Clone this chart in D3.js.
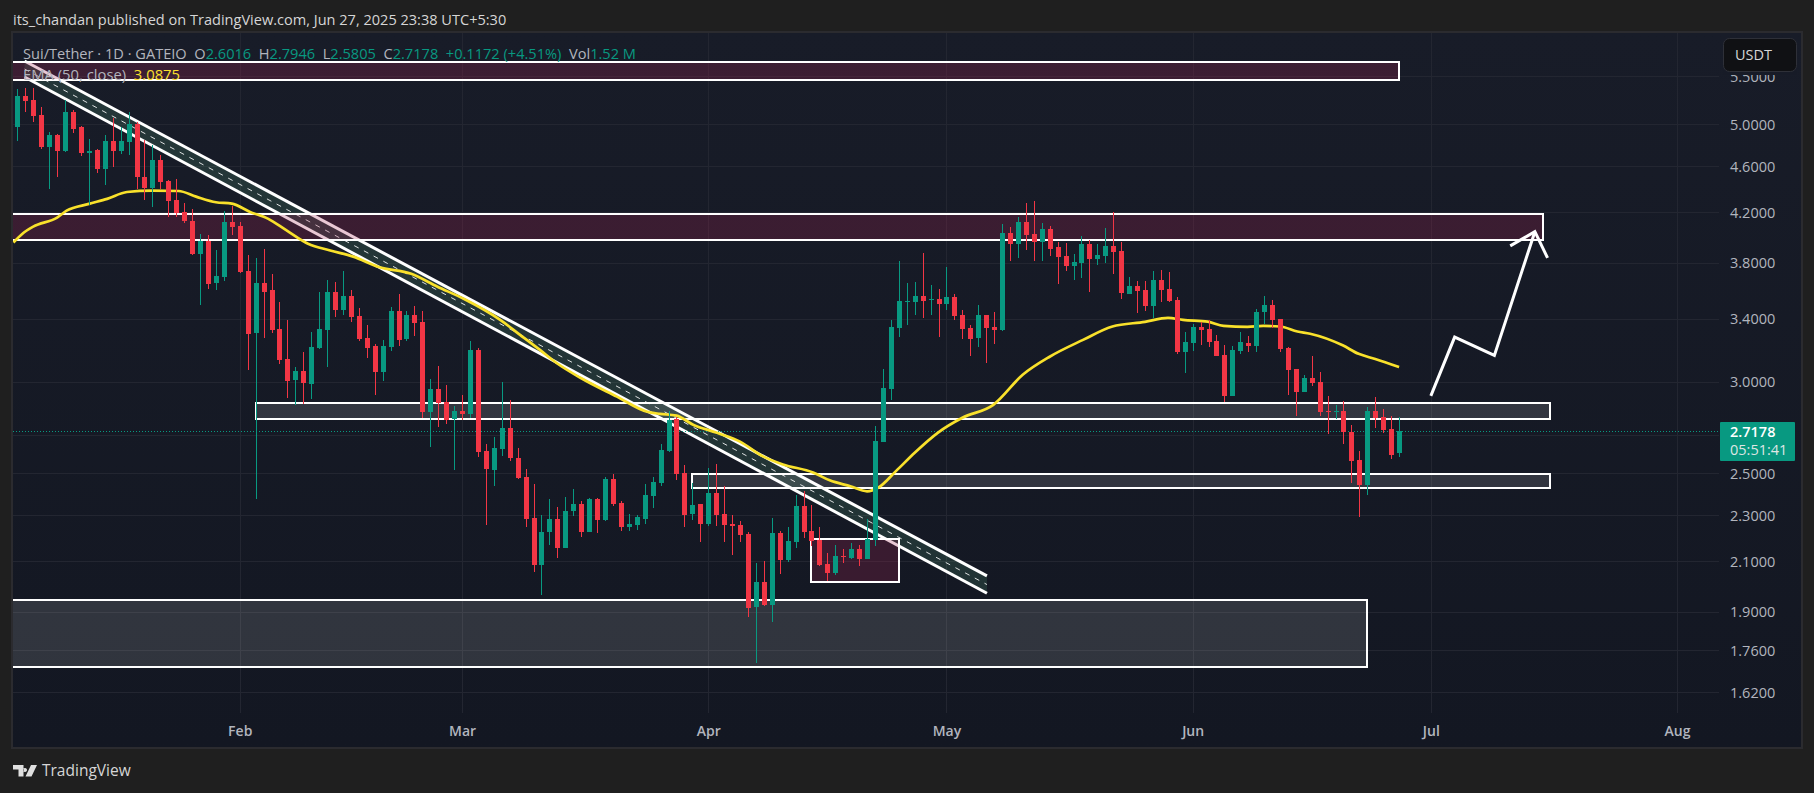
<!DOCTYPE html>
<html><head><meta charset="utf-8">
<script src="https://d3js.org/d3.v7.min.js"></script>
<style>
html,body{margin:0;padding:0;background:#1f1f1f;overflow:hidden}
svg{display:block}
text{font-family:"Open Sans","Noto Sans",sans-serif}
</style></head><body>
<script>
// ---------- data ----------
const firstDay = "2025-01-04";
const opens = [4.974,5.289,5.247,5.094,4.780,4.896,4.742,5.124,4.974,4.723,
4.751,4.576,4.837,4.742,4.828,5.003,4.504,4.407,4.658,4.468,
4.303,4.201,4.128,3.866,3.967,3.649,3.693,4.120,4.087,3.738,
3.305,3.649,3.599,3.332,3.138,3.011,3.065,2.987,3.208,3.325,
3.585,3.459,3.557,3.418,3.272,3.221,3.059,3.215,3.452,3.266,
3.425,3.378,2.825,2.957,2.882,2.787,2.830,2.814,3.195,2.615,
2.518,2.625,2.737,2.578,2.483,2.289,2.085,2.226,2.285,2.157,
2.321,2.354,2.226,2.377,2.280,2.473,2.358,2.248,2.258,2.285,
2.391,2.454,2.615,2.787,2.503,2.307,2.354,2.262,2.406,2.307,
2.262,2.258,2.217,1.918,2.016,1.926,2.222,2.106,2.182,2.344,
2.231,2.191,2.089,2.053,2.123,2.114,2.152,2.110,2.191,2.662,
2.957,3.338,3.515,3.515,3.557,3.529,3.536,3.501,3.550,3.425,
3.338,3.272,3.425,3.345,3.325,4.030,3.944,4.120,4.022,3.959,
4.062,3.920,3.851,3.775,3.797,3.944,3.828,3.851,3.928,3.889,
3.571,3.628,3.599,3.487,3.671,3.606,3.529,3.182,3.240,3.345,
3.332,3.253,3.163,2.916,3.189,3.240,3.221,3.445,3.494,3.398,
3.208,3.077,2.940,3.023,2.999,2.830,2.825,2.830,2.715,2.568,
2.444,2.830,2.798,2.732,2.6016];
const highs = [5.363,5.374,5.374,5.175,4.925,4.905,5.247,5.144,4.984,4.857,
4.761,4.896,5.063,4.974,5.124,5.023,4.847,4.799,4.704,4.477,
4.486,4.278,4.226,4.022,4.014,3.897,4.210,4.252,4.120,3.858,
3.835,3.905,3.716,3.515,3.391,3.089,3.182,3.312,3.585,3.671,
3.657,3.738,3.599,3.473,3.358,3.234,3.259,3.480,3.571,3.452,
3.487,3.452,3.017,3.095,2.981,2.859,2.922,3.253,3.208,2.651,
2.688,2.999,2.893,2.630,2.523,2.449,2.303,2.377,2.340,2.386,
2.425,2.367,2.382,2.382,2.483,2.498,2.367,2.307,2.303,2.449,
2.483,2.651,2.830,2.798,2.543,2.454,2.354,2.528,2.548,2.439,
2.303,2.276,2.226,2.094,2.102,2.289,2.231,2.248,2.396,2.415,
2.349,2.248,2.135,2.170,2.152,2.178,2.170,2.285,2.748,3.077,
3.391,3.812,3.649,3.657,3.874,3.635,3.606,3.767,3.571,3.459,
3.358,3.494,3.425,3.445,4.103,4.079,4.161,4.278,4.295,4.111,
4.087,3.959,3.951,3.866,4.006,3.975,3.944,4.070,4.201,3.959,
3.693,3.664,3.664,3.738,3.745,3.730,3.550,3.312,3.365,3.378,
3.391,3.292,3.227,3.221,3.312,3.285,3.466,3.557,3.529,3.398,
3.215,3.077,3.041,3.157,3.059,2.916,2.865,2.887,2.754,2.615,
2.853,2.910,2.842,2.803,2.7946];
const lows = [4.837,5.123,5.023,4.761,4.398,4.504,4.732,4.915,4.695,4.260,
4.540,4.433,4.594,4.714,4.704,4.398,4.303,4.243,4.398,4.161,
4.161,4.111,3.858,3.494,3.606,3.599,3.664,4.014,3.723,3.071,
2.377,3.272,3.305,3.108,2.905,2.865,2.870,2.899,3.201,3.089,
3.411,3.425,3.378,3.253,3.145,2.922,3.005,3.189,3.221,3.253,
3.285,2.792,2.636,2.743,2.759,2.518,2.781,2.792,2.584,2.258,
2.439,2.589,2.563,2.473,2.248,2.057,1.964,2.170,2.114,2.157,
2.298,2.204,2.226,2.222,2.276,2.344,2.231,2.231,2.235,2.262,
2.335,2.439,2.610,2.468,2.248,2.280,2.182,2.253,2.253,2.182,
2.127,2.182,1.881,1.717,1.922,1.863,2.049,2.098,2.157,2.200,
2.165,2.081,2.020,2.045,2.093,2.110,2.081,2.110,2.165,2.662,
2.893,3.279,3.358,3.425,3.405,3.425,3.279,3.459,3.391,3.266,
3.157,3.215,3.114,3.234,3.318,3.812,3.835,3.897,3.812,3.812,
3.851,3.642,3.738,3.671,3.686,3.585,3.783,3.797,3.716,3.536,
3.571,3.438,3.452,3.405,3.515,3.515,3.170,3.053,3.189,3.227,
3.215,3.157,2.882,2.916,3.170,3.182,3.182,3.365,3.338,3.182,
2.922,2.803,2.940,2.975,2.803,2.704,2.787,2.651,2.453,2.294,
2.396,2.737,2.710,2.573,2.5805];
const closes = [5.289,5.237,5.083,4.780,4.896,4.742,5.124,4.954,4.723,4.742,
4.576,4.837,4.742,4.837,5.003,4.504,4.407,4.658,4.459,4.295,
4.193,4.128,3.866,3.967,3.642,3.700,4.120,4.079,3.730,3.299,
3.649,3.585,3.325,3.132,3.005,3.065,2.993,3.215,3.332,3.585,
3.459,3.557,3.411,3.266,3.208,3.059,3.221,3.452,3.259,3.425,
3.371,2.825,2.957,2.876,2.781,2.830,2.814,3.195,2.610,2.523,
2.630,2.737,2.578,2.478,2.285,2.085,2.226,2.285,2.157,2.321,
2.354,2.226,2.377,2.280,2.473,2.354,2.248,2.262,2.294,2.396,
2.458,2.620,2.781,2.498,2.303,2.349,2.262,2.406,2.303,2.258,
2.253,2.213,1.915,2.016,1.926,2.222,2.106,2.187,2.344,2.226,
2.187,2.085,2.053,2.123,2.119,2.152,2.110,2.195,2.667,2.963,
3.345,3.522,3.522,3.557,3.522,3.536,3.501,3.550,3.418,3.332,
3.266,3.425,3.338,3.325,4.030,3.944,4.120,4.014,3.959,4.062,
3.905,3.843,3.775,3.805,3.944,3.828,3.858,3.928,3.882,3.578,
3.628,3.592,3.487,3.671,3.599,3.522,3.182,3.246,3.345,3.325,
3.246,3.157,2.916,3.195,3.246,3.221,3.445,3.494,3.391,3.201,
3.071,2.940,3.023,2.993,2.825,2.825,2.830,2.715,2.563,2.444,
2.830,2.792,2.726,2.594,2.7178];

// EMA(50, close): day offset from firstDay and value, read at the bends of the yellow line
const emaDays = [-0.5,0.6,2,5,6.2,9,11.3,13.8,17,20.3,22.5,25,27,29.3,31.6,33.8,36.6,39.4,42.3,45.5,49.6,52.9,56.2,60.8,63.3,65.8,67.9,70.9,75.5,79.3,80.9,83,85.1,88.1,91,93.9,96.4,100.2,102.3,104.9,107,108.4,110.7,113,115.9,119,122.9,126.6,130,134.2,137.9,142,144.9,146.8,149.9,151.9,154.9,156.9,159,161.2,162.8,166.9,168.9,171,174];
const emaValues = [3.954,4.022,4.081,4.155,4.212,4.269,4.312,4.371,4.383,4.380,4.331,4.283,4.271,4.202,4.144,4.054,3.944,3.892,3.845,3.767,3.716,3.622,3.536,3.391,3.292,3.195,3.113,3.023,2.912,2.826,2.814,2.804,2.754,2.710,2.663,2.586,2.545,2.505,2.466,2.437,2.413,2.430,2.514,2.605,2.710,2.792,2.865,3.041,3.152,3.259,3.347,3.378,3.405,3.391,3.379,3.351,3.345,3.351,3.347,3.314,3.299,3.224,3.170,3.138,3.0875];

const priceTicks = [5.5,5.0,4.6,4.2,3.8,3.4,3.0,2.5,2.3,2.1,1.9,1.76,1.62];
const hiddenGridPrice = [2.7]; // gridline only: the last-price label covers its tick label
const monthTicks = ["2025-02-01","2025-03-01","2025-04-01","2025-05-01","2025-06-01","2025-07-01","2025-08-01"];
const lastPrice = 2.7178, countdown = "05:51:41";

// drawings: [first day, last day, top price, bottom price]
const zoneTop = [-2,174,5.661,5.459];
const zoneResistance = [-2,192.1,4.185,3.975];
const zoneMid = [30,193,2.877,2.787];
const zoneLow = [84.9,193,2.498,2.430];
const zoneBase = [100,111,2.195,2.017];
const zoneBottom = [-2,170,1.946,1.701];
const purpleZones = [zoneTop,zoneResistance,zoneBase];
const greyZones = [zoneMid,zoneLow,zoneBottom];
// channel: days and prices of its upper and lower edge
const channelDays = [0.9,122.1];
const channelUpper = [5.669,2.040];
const channelLower = [5.492,1.971];
// forecast arrow
const arrowDays = [178,181,186,191.1];
const arrowPrices = [2.916,3.277,3.160,4.040];
const arrowHeadDays = [188,191.1,192.7];
const arrowHeadPrices = [3.928,4.040,3.835];

const legendParts = [["Sui/Tether · 1D · GATEIO  O","t"],["2.6016","v"],["  H","t"],["2.7946","v"],["  L","t"],["2.5805","v"],["  C","t"],["2.7178","v"],["  +0.1172 (+4.51%)","v"],["  Vol","t"],["1.52 M","v"]];

// ---------- layout ----------
const W=1814,H=793;
const L=13,R=1801,T=33,B=747,AX=1719,GB=713;
const GREEN="#089981",RED="#f23645";

const svg=d3.select("body").append("svg").attr("width",W).attr("height",H);
const defs=svg.append("defs");
const g=defs.append("linearGradient").attr("id","bg").attr("x1",0).attr("x2",0).attr("y1",0).attr("y2",1);
g.append("stop").attr("offset",0).attr("stop-color","#181c28");
g.append("stop").attr("offset",1).attr("stop-color","#131722");
defs.append("clipPath").attr("id","plot").append("rect").attr("x",L).attr("y",T).attr("width",AX-L).attr("height",GB-T);

svg.append("rect").attr("width",W).attr("height",H).attr("fill","#1f1f1f");
svg.append("rect").attr("x",L-1).attr("y",T-1).attr("width",R-L+2).attr("height",B-T+2)
  .attr("fill","url(#bg)").attr("stroke","#2b2b2f").attr("stroke-width",2);

const utc=d3.utcParse("%Y-%m-%d");
const day0=utc(firstDay);
const dayAt=d=>new Date(day0.getTime()+d*864e5);
const x=d3.scaleUtc().domain([day0,utc("2025-08-01")]).range([17.4,1677]);
const y=d3.scaleLog().domain([1.62,5]).range([692,124.3]);
const xd=d=>x(dayAt(d));

// grid
const grid=svg.append("g").attr("stroke","#232631").attr("stroke-width",1).attr("shape-rendering","crispEdges");
grid.selectAll(".h").data(priceTicks.concat(hiddenGridPrice)).join("line").attr("x1",L).attr("x2",AX).attr("y1",d=>Math.round(y(d))+.5).attr("y2",d=>Math.round(y(d))+.5);
grid.selectAll(".v").data(monthTicks).join("line").attr("y1",T).attr("y2",GB).attr("x1",d=>Math.round(x(utc(d)))+.5).attr("x2",d=>Math.round(x(utc(d)))+.5);

const plot=svg.append("g").attr("clip-path","url(#plot)");

// channel
const edge=d3.line().x(d=>xd(d[0])).y(d=>y(d[1]));
const up=channelDays.map((d,i)=>[d,channelUpper[i]]);
const lo=channelDays.map((d,i)=>[d,channelLower[i]]);
const mid=channelDays.map((d,i)=>[d,Math.sqrt(channelUpper[i]*channelLower[i])]);
plot.append("path").attr("d",edge(up.concat(lo.slice().reverse()))+"Z").attr("fill","rgba(100,190,140,.17)");
plot.append("path").attr("d",edge(mid)).attr("fill","none").attr("stroke","#fff").attr("stroke-opacity",.85).attr("stroke-width",1).attr("stroke-dasharray","5 6");
[up,lo].forEach(p=>plot.append("path").attr("d",edge(p)).attr("fill","none").attr("stroke","#fff").attr("stroke-width",3));

// zones
function zones(list,fill){
  plot.selectAll(null).data(list).join("rect")
   .attr("x",d=>xd(d[0])).attr("width",d=>xd(d[1])-xd(d[0]))
   .attr("y",d=>y(d[2])).attr("height",d=>y(d[3])-y(d[2]))
   .attr("fill",fill).attr("stroke","#fff").attr("stroke-width",2).attr("shape-rendering","crispEdges");
}
zones(purpleZones,"rgba(166,34,82,.25)");
zones(greyZones,"rgba(255,255,255,.125)");

// price line
plot.append("line").attr("x1",L).attr("x2",AX).attr("y1",Math.round(y(lastPrice))+.5).attr("y2",Math.round(y(lastPrice))+.5)
  .attr("stroke",GREEN).attr("stroke-width",1).attr("stroke-dasharray","1 2").attr("shape-rendering","crispEdges");

// EMA
const emaLine=d3.line().x(d=>xd(d[0])).y(d=>y(d[1])).curve(d3.curveMonotoneX);
plot.append("path").attr("d",emaLine(emaDays.map((d,i)=>[d,emaValues[i]]))).attr("fill","none").attr("stroke","#f9e12b").attr("stroke-width",2.7);

// candles
const candles=opens.map((o,i)=>({i,o,h:highs[i],l:lows[i],c:closes[i]}));
const cg=plot.selectAll(".c").data(candles).join("g").attr("shape-rendering","crispEdges");
cg.append("rect").attr("x",d=>Math.round(xd(d.i))).attr("width",1)
  .attr("y",d=>y(d.h)).attr("height",d=>y(d.l)-y(d.h)).attr("fill",d=>d.c>=d.o?GREEN:RED);
cg.append("rect").attr("x",d=>Math.round(xd(d.i))-2).attr("width",5)
  .attr("y",d=>y(Math.max(d.o,d.c))).attr("height",d=>Math.max(1,Math.abs(y(d.o)-y(d.c)))).attr("fill",d=>d.c>=d.o?GREEN:RED);

// arrow
const arrowPath=d3.line().x(d=>xd(d[0])).y(d=>y(d[1]));
[[arrowDays,arrowPrices],[arrowHeadDays,arrowHeadPrices]].forEach(([a,b])=>
  plot.append("path").attr("d",arrowPath(a.map((d,i)=>[d,b[i]]))).attr("fill","none").attr("stroke","#fff").attr("stroke-width",3));

// axes
const yAxis=svg.append("g").attr("transform","translate(1730,0)")
  .call(d3.axisRight(y).tickValues(priceTicks).tickSize(0).tickPadding(0).tickFormat(d3.format(".4f")));
yAxis.select(".domain").remove();
yAxis.selectAll("text").attr("fill","#b2b5be").style("font-size","14.5px").style("font-family",'"Open Sans",sans-serif').attr("dy","0.36em");

const xAxis=svg.append("g").attr("transform","translate(0,726)")
  .call(d3.axisBottom(x).tickValues(monthTicks.map(utc)).tickSize(0).tickPadding(0).tickFormat(d3.utcFormat("%b")));
xAxis.select(".domain").remove();
xAxis.selectAll("text").attr("fill","#b2b5be").style("font-size","14px").style("font-weight",600).style("font-family",'"Open Sans",sans-serif');

// USDT box (with the strip of chart background it keeps clear underneath)
svg.append("rect").attr("x",1723).attr("y",70).attr("width",74).attr("height",5).attr("fill","#171b27");
svg.append("rect").attr("x",1723.5).attr("y",38.5).attr("width",73).attr("height",33).attr("rx",6).attr("fill","#101114").attr("stroke","#2e3038");
svg.append("text").attr("x",1735).attr("y",60).attr("fill","#d6d6d6").style("font-size","14.5px").text("USDT");

// last price label
svg.append("rect").attr("x",1720).attr("y",422).attr("width",75).attr("height",39).attr("rx",1).attr("fill",GREEN);
svg.append("text").attr("x",1730).attr("y",437).attr("fill","#fff").style("font-size","14.5px").style("font-weight",600).text(d3.format(".4f")(lastPrice));
svg.append("text").attr("x",1730).attr("y",455).attr("fill","#dfe6e4").style("font-size","14.5px").text(countdown);

// legend
const leg=svg.append("text").attr("x",23).attr("y",58.5).style("font-size","14.6px").attr("xml:space","preserve");
leg.selectAll("tspan").data(legendParts).join("tspan").attr("fill",d=>d[1]==="v"?GREEN:"#b2b5be").style("white-space","pre").text(d=>d[0]);
const leg2=svg.append("text").attr("x",23).attr("y",79.5).style("font-size","14.8px").style("white-space","pre");
leg2.append("tspan").attr("fill","#b2b5be").text("EMA (50, close)  ");
leg2.append("tspan").attr("fill","#fbe22d").text(d3.format(".4f")(emaValues[emaValues.length-1]));

// header / footer
svg.append("text").attr("x",13).attr("y",25).attr("fill","#d6d6d6").style("font-size","14.55px").text("its_chandan published on TradingView.com, Jun 27, 2025 23:38 UTC+5:30");
svg.append("path").attr("d","M13 765h10.5v11.5h-5v-7H13zM25 768a2 2 0 1 0 .01 0M31 765h6l-5.5 11.5h-6z").attr("fill","#e0e0e0");
svg.append("text").attr("x",42).attr("y",776).attr("fill","#d6d6d6").style("font-size","15.5px").text("TradingView");
</script>
</body></html>
